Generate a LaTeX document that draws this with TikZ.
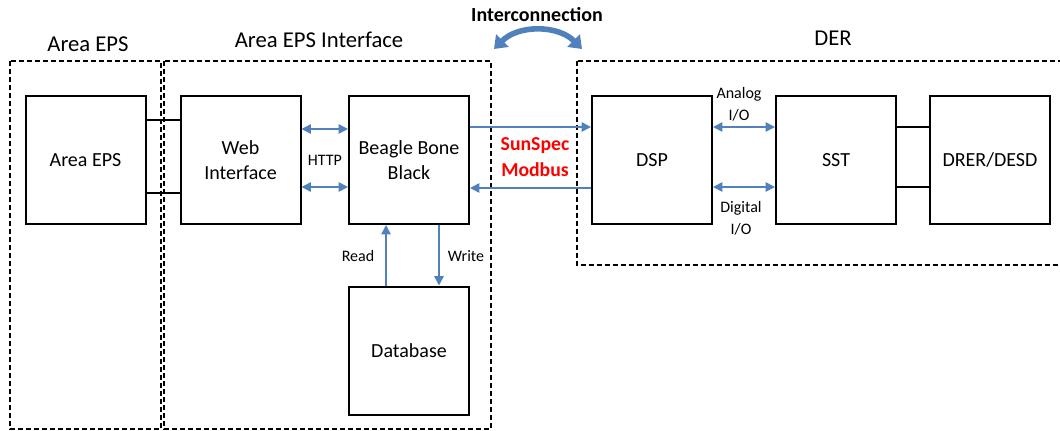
\documentclass[tikz,border=0pt]{standalone}
\usepackage{fontspec}
\setmainfont{Carlito}
\usetikzlibrary{arrows.meta}
\definecolor{linkblue}{RGB}{79,129,189}
\definecolor{protored}{RGB}{255,0,0}
\tikzset{
  blk/.style={draw,line width=1.5pt,minimum width=90pt,minimum height=96pt,inner sep=2pt,align=center,font=\fontsize{15}{19}\selectfont},
  region/.style={draw,line width=1.4pt,dash pattern=on 4pt off 2pt},
  head/.style={font=\fontsize{17}{20}\selectfont},
  small/.style={font=\fontsize{12}{16.5}\selectfont,align=center},
  link/.style={draw=linkblue,line width=1.2pt},
  tip/.style={-{Triangle[length=7pt,width=7pt]}},
  both/.style={{Triangle[length=7pt,width=7pt]}-{Triangle[length=7pt,width=7pt]}},
  wire/.style={draw,line width=1.5pt}
}
\begin{document}
\begin{tikzpicture}[x=0.75pt,y=-0.75pt]
\useasboundingbox (0,0) rectangle (1060,431);
% regions
\draw[region](10,61) rectangle (161,429);
\draw[region](164,61) rectangle (491,429);
\draw[region](577,61) rectangle (1064,265);
\node[head] (hEps) at (88,44) {Area EPS};
\node[head] (hIface) at (319,40) {Area EPS Interface};
\node[head] (hDer) at (833,38) {DER};
\node[font=\fontsize{15}{18}\selectfont\bfseries] (hInter) at (537,15) {Interconnection};
\coordinate (ic1) at (494,49);
\coordinate (ic2) at (582,49);
\draw[linkblue,line width=4.2pt,{Triangle[length=9pt,width=13pt]}-{Triangle[length=9pt,width=13pt]}] (ic1) to[bend left=45] (ic2);
% blocks
\node[blk] (eps) at (85.5,160) {Area EPS};
\node[blk] (web) at (240.5,160) {Web\\Interface};
\node[blk] (bbb) at (409,160) {Beagle Bone\\Black};
\node[blk] (db) at (409,350.5) {Database};
\node[blk] (dsp) at (652,160) {DSP};
\node[blk] (sst) at (836,160) {SST};
\node[blk] (drer) at (990,160) {DRER/DESD};
% black wires
\draw[wire]([yshift=30pt]eps.east)--([yshift=30pt]web.west);
\draw[wire]([yshift=-25pt]eps.east)--([yshift=-25pt]web.west);
\draw[wire]([yshift=24.75pt]sst.east)--([yshift=24.75pt]drer.west);
\draw[wire]([yshift=-20.25pt]sst.east)--([yshift=-20.25pt]drer.west);
% blue links
\draw[link,both]([yshift=23.25pt]web.east)--([yshift=23.25pt]bbb.west);
\draw[link,both]([yshift=-20.25pt]web.east)--([yshift=-20.25pt]bbb.west);
\node[small] (http) at (325,160) {HTTP};
\draw[link,tip]([yshift=24.75pt]bbb.east)--([yshift=24.75pt]dsp.west);
\draw[link,tip]([yshift=-21pt]dsp.west)--([yshift=-21pt]bbb.east);
\node[font=\fontsize{14.8}{20}\selectfont\bfseries,text=protored,align=center] (proto) at (535,157) {SunSpec\\Modbus};
\draw[link,both]([yshift=24.75pt]dsp.east)--([yshift=24.75pt]sst.west);
\draw[link,both]([yshift=-20.25pt]dsp.east)--([yshift=-20.25pt]sst.west);
\node[small] (analog) at (739,104) {Analog\\I/O};
\node[small] (digital) at (741,218) {Digital\\I/O};
\draw[link,tip]([xshift=-17.25pt]db.north)--([xshift=-17.25pt]bbb.south);
\draw[link,tip]([xshift=22.5pt]bbb.south)--([xshift=22.5pt]db.north);
\node[small] (rd) at (358,256) {Read};
\node[small] (wr) at (466,256) {Write};
\end{tikzpicture}
\end{document}
